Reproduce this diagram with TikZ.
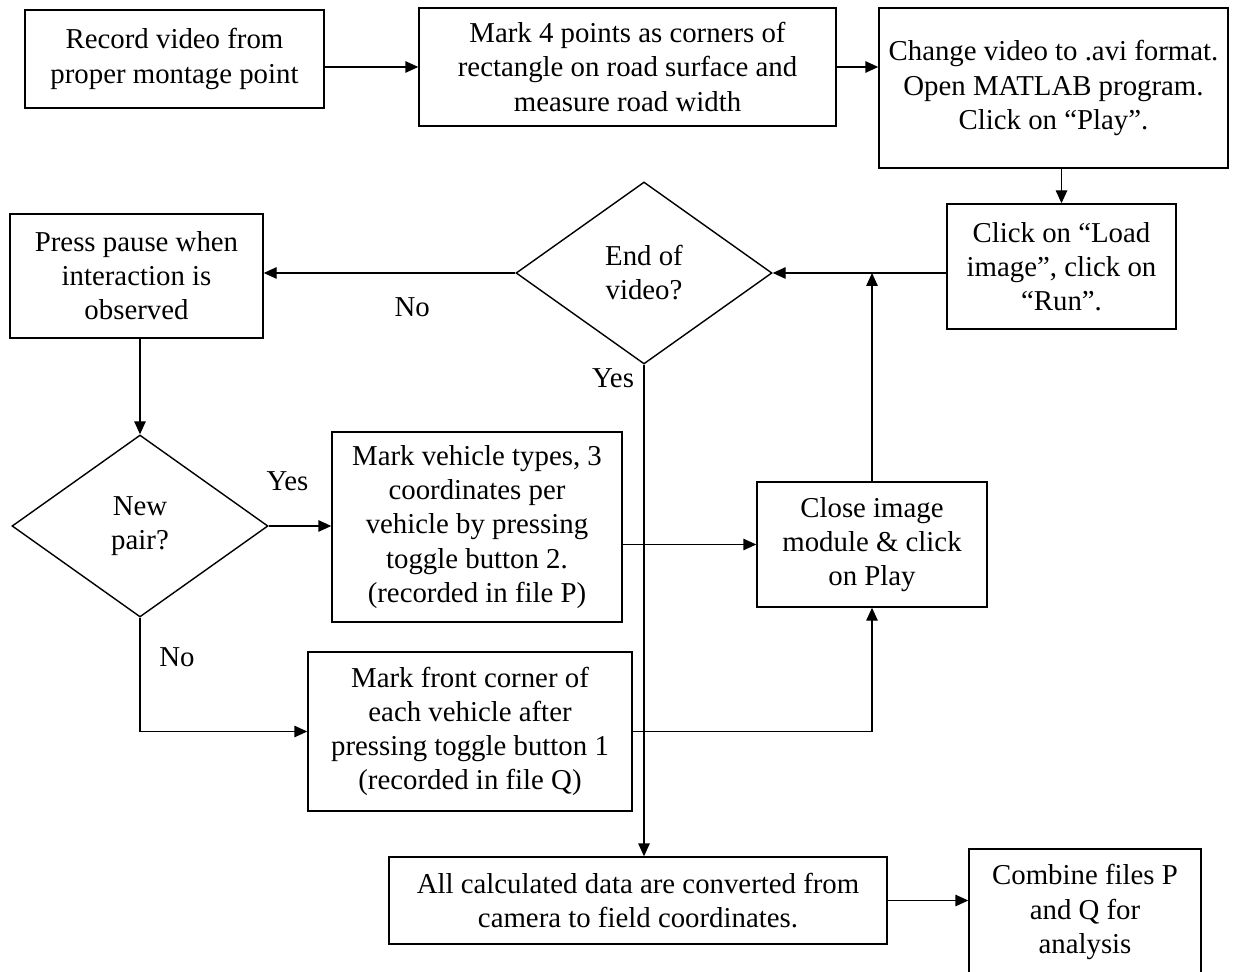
\documentclass[tikz,border=0pt]{standalone}
\usepackage{fontspec}
\setmainfont{Liberation Serif}
\usetikzlibrary{arrows.meta,positioning,shapes.geometric}

\begin{document}
\begin{tikzpicture}[>={Triangle[length=2.6mm,width=2.3mm]},line width=0.8pt,
  txt/.style={font=\fontsize{16.4}{19.4}\selectfont},
  procbox/.style={draw,txt,align=center,inner sep=0pt},
  choice/.style={draw,txt,diamond,align=center,inner sep=0pt,minimum width=5.12cm,minimum height=3.64cm}]
\useasboundingbox (0,0) rectangle (24.72,-19.44);
\node[procbox,minimum width=5.98cm,minimum height=1.96cm] (rec) at (3.49,-1.18) {Record video from\\proper montage point};
\node[procbox,minimum width=8.34cm,minimum height=2.36cm] (markpts) at (12.55,-1.34) {Mark 4 points as corners of\\rectangle on road surface and\\measure road width};
\node[procbox,minimum width=6.98cm,minimum height=3.2cm] (avi) at (21.07,-1.76) {Change video to .avi format.\\Open MATLAB program.\\Click on “Play”.};
\node[procbox,minimum width=4.58cm,minimum height=2.5cm] (load) at (21.23,-5.33) {Click on “Load\\image”, click on\\“Run”.};
\node[choice] (endv) at (12.88,-5.46) {End of\\video?};
\node[procbox,minimum width=5.06cm,minimum height=2.48cm] (pause) at (2.73,-5.52) {Press pause when\\interaction is\\observed};
\node[choice] (newp) at (2.8,-10.52) {New\\pair?};
\node[procbox,minimum width=5.8cm,minimum height=3.8cm] (markveh) at (9.54,-10.54) {Mark vehicle types, 3\\coordinates per\\vehicle by pressing\\toggle button 2.\\(recorded in file P)};
\node[procbox,minimum width=4.6cm,minimum height=2.5cm] (closeimg) at (17.44,-10.89) {Close image\\module \& click\\on Play};
\node[procbox,minimum width=6.48cm,minimum height=3.18cm] (front) at (9.4,-14.63) {Mark front corner of\\each vehicle after\\pressing toggle button 1\\(recorded in file Q)};
\node[procbox,minimum width=9.96cm,minimum height=1.74cm] (conv) at (12.76,-18.01) {All calculated data are converted from\\camera to field coordinates.};
\node[procbox,minimum width=4.64cm,minimum height=2.52cm] (comb) at (21.7,-18.24) {Combine files P\\and Q for\\analysis};
\draw[->] (markpts.west -| rec.east) -- (markpts.west);
\draw[->] (markpts.east) -- (markpts.east -| avi.west);
\draw[->] (avi.south -| load.north) -- (load.north);
\draw[->] (load.west |- endv.east) -- (endv.east);
\draw[->] (endv.west) -- (endv.west -| pause.east) node[txt,pos=0.41,yshift=-0.68cm] {No};
\draw[->] (pause.south -| newp.north) -- (newp.north);
\draw[->] (newp.east) -- (newp.east -| markveh.west) node[txt,pos=0.3,yshift=0.9cm] {Yes};
\draw[->] (closeimg.west -| markveh.east) -- (closeimg.west);
\draw[->] (newp.south) |- (front.west) node[txt,pos=0.175,xshift=0.74cm] {No};
\draw[->] (front.east) -| (closeimg.south);
\draw[->] (closeimg.north) -- (closeimg.north |- endv.east);
\draw[->] (endv.south) -- (endv.south |- conv.north) node[txt,at start,xshift=-0.62cm,yshift=-0.28cm] {Yes};
\draw[->] (conv.east) -- (conv.east -| comb.west);
\end{tikzpicture}
\end{document}
